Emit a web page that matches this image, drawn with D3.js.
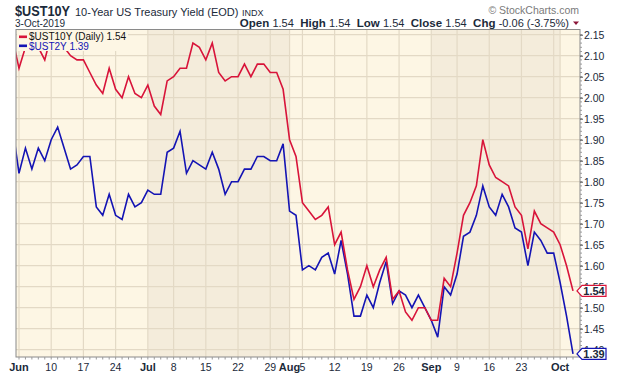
<!DOCTYPE html>
<html>
<head>
<meta charset="utf-8">
<script src="https://cdn.jsdelivr.net/npm/d3@7"></script>
<style>
  body { margin: 0; background: #fff; }
  svg { display: block; font-family: 'Liberation Sans', Arial, sans-serif; }
</style>
</head>
<body>
<div id="chart"></div>
<script>
// trading days, May 31 is just off the left edge (clipped)
const dates = [
  '2019-05-31',
  '2019-06-03','2019-06-04','2019-06-05','2019-06-06','2019-06-07',
  '2019-06-10','2019-06-11','2019-06-12','2019-06-13','2019-06-14',
  '2019-06-17','2019-06-18','2019-06-19','2019-06-20','2019-06-21',
  '2019-06-24','2019-06-25','2019-06-26','2019-06-27','2019-06-28',
  '2019-07-01','2019-07-02','2019-07-03','2019-07-05',
  '2019-07-08','2019-07-09','2019-07-10','2019-07-11','2019-07-12',
  '2019-07-15','2019-07-16','2019-07-17','2019-07-18','2019-07-19',
  '2019-07-22','2019-07-23','2019-07-24','2019-07-25','2019-07-26',
  '2019-07-29','2019-07-30','2019-07-31','2019-08-01','2019-08-02',
  '2019-08-05','2019-08-06','2019-08-07','2019-08-08','2019-08-09',
  '2019-08-12','2019-08-13','2019-08-14','2019-08-15','2019-08-16',
  '2019-08-19','2019-08-20','2019-08-21','2019-08-22','2019-08-23',
  '2019-08-26','2019-08-27','2019-08-28','2019-08-29','2019-08-30',
  '2019-09-03','2019-09-04','2019-09-05','2019-09-06',
  '2019-09-09','2019-09-10','2019-09-11','2019-09-12','2019-09-13',
  '2019-09-16','2019-09-17','2019-09-18','2019-09-19','2019-09-20',
  '2019-09-23','2019-09-24','2019-09-25','2019-09-26','2019-09-27',
  '2019-09-30','2019-10-01','2019-10-02','2019-10-03'
]

const ust10y = [
  2.14,
  2.07, 2.12, 2.12, 2.12, 2.09,
  2.15, 2.14, 2.12, 2.10, 2.09,
  2.09, 2.06, 2.03, 2.01, 2.07,
  2.02, 2.00, 2.05, 2.01, 2.00,
  2.03, 1.98, 1.96, 2.04,
  2.05, 2.07, 2.07, 2.13, 2.12,
  2.09, 2.13, 2.06, 2.04, 2.05,
  2.05, 2.08, 2.05, 2.08, 2.08,
  2.06, 2.06, 2.02, 1.90, 1.86,
  1.75, 1.73, 1.71, 1.72, 1.74,
  1.65, 1.68, 1.59, 1.52, 1.55,
  1.60, 1.55, 1.59, 1.62, 1.52,
  1.54, 1.49, 1.47, 1.50, 1.50,
  1.47, 1.47, 1.57, 1.55,
  1.63, 1.72, 1.75, 1.79, 1.90,
  1.84, 1.81, 1.80, 1.79, 1.74,
  1.72, 1.64, 1.73, 1.70, 1.69,
  1.68, 1.65, 1.60, 1.54
]

const ust2y = [
  1.93,
  1.82, 1.88, 1.83, 1.88, 1.85,
  1.90, 1.93, 1.88, 1.83, 1.84,
  1.86, 1.86, 1.74, 1.72, 1.77,
  1.72, 1.71, 1.77, 1.74, 1.75,
  1.78, 1.77, 1.77, 1.87,
  1.88, 1.92, 1.82, 1.85, 1.84,
  1.83, 1.87, 1.83, 1.77, 1.80,
  1.80, 1.83, 1.83, 1.86, 1.86,
  1.85, 1.85, 1.89, 1.73, 1.72,
  1.59, 1.60, 1.59, 1.62, 1.63,
  1.58, 1.66, 1.58, 1.48, 1.48,
  1.53, 1.50, 1.56, 1.61, 1.51,
  1.54, 1.53, 1.50, 1.53, 1.50,
  1.47, 1.43, 1.55, 1.53,
  1.58, 1.67, 1.68, 1.72, 1.79,
  1.74, 1.72, 1.77, 1.74, 1.69,
  1.68, 1.60, 1.68, 1.66, 1.63,
  1.63, 1.56, 1.48, 1.39
]

const yTicks = [1.40, 1.45, 1.50, 1.55, 1.60, 1.65, 1.70, 1.75, 1.80, 1.85, 1.90, 1.95, 2.00, 2.05, 2.10, 2.15]

const tickDates = ['2019-06-03','2019-06-10','2019-06-17','2019-06-24','2019-07-01','2019-07-08','2019-07-15','2019-07-22','2019-07-29',
  '2019-08-01','2019-08-05','2019-08-12','2019-08-19','2019-08-26','2019-09-03','2019-09-09','2019-09-16','2019-09-23','2019-10-01']
const tickLabels = ['Jun','10','17','24','Jul','8','15','22','29','Aug','5','12','19','26','Sep','9','16','23','Oct']

const red = '#d8143a'
const blue = '#1414b4'
const lightBg = '#fdf6e4'
const darkBg = '#f4ecdb'
const gridColor = '#e3d9c5'
const textColor = '#1b2a3a'

const width = 620
const height = 376
const plot = { left: 16, right: 580, top: 29.5, bottom: 357 }

const svg = d3.select('#chart').append('svg')
  .attr('width', width)
  .attr('height', height)

const x = d3.scaleLinear().domain([1, dates.length - 1]).range([19, 573])
const y = d3.scaleLinear().domain([1.40, 2.15]).range([349.7, 34.7])

const idx = d => dates.indexOf(d)

// month shading
const monthStarts = []
dates.forEach(function(d, i) {
  if (i > 1 && d.slice(5, 7) !== dates[i - 1].slice(5, 7)) monthStarts.push(i)
})
const bounds = [plot.left].concat(monthStarts.map(i => x(i))).concat([plot.right])
for (let k = 0; k < bounds.length - 1; k++) {
  svg.append('rect')
    .attr('x', bounds[k]).attr('y', plot.top)
    .attr('width', bounds[k + 1] - bounds[k]).attr('height', plot.bottom - plot.top)
    .attr('fill', k % 2 === 0 ? lightBg : darkBg)
}

// vertical grid: week starts and month starts
const gridIdx = []
dates.forEach(function(d, i) {
  if (i < 1) return
  const wd = new Date(d + 'T12:00:00').getDay()
  const pwd = new Date(dates[i - 1] + 'T12:00:00').getDay()
  if (wd <= pwd || monthStarts.indexOf(i) >= 0) gridIdx.push(i)
})
svg.selectAll('.vgrid').data(gridIdx).enter().append('line')
  .attr('class', 'vgrid')
  .attr('x1', d => x(d)).attr('x2', d => x(d))
  .attr('y1', plot.top).attr('y2', plot.bottom)
  .attr('stroke', gridColor).attr('stroke-width', 1.2)

svg.selectAll('.hgrid').data(yTicks).enter().append('line')
  .attr('class', 'hgrid')
  .attr('x1', plot.left).attr('x2', plot.right)
  .attr('y1', d => y(d)).attr('y2', d => y(d))
  .attr('stroke', gridColor).attr('stroke-width', 1.2)

svg.append('clipPath').attr('id', 'clip')
  .append('rect')
  .attr('x', plot.left).attr('y', plot.top)
  .attr('width', plot.right - plot.left).attr('height', plot.bottom - plot.top)

const line = d3.line()
  .x((d, i) => x(i))
  .y(d => y(d))

const lines = svg.append('g').attr('clip-path', 'url(#clip)')
lines.append('path').datum(ust2y)
  .attr('d', line).attr('fill', 'none')
  .attr('stroke', blue).attr('stroke-width', 1.6).attr('stroke-linejoin', 'miter')
lines.append('path').datum(ust10y)
  .attr('d', line).attr('fill', 'none')
  .attr('stroke', red).attr('stroke-width', 1.6).attr('stroke-linejoin', 'miter')

// legend
svg.append('rect').attr('x', plot.left + 1).attr('y', plot.top + 1)
  .attr('width', 111).attr('height', 20.5).attr('fill', lightBg)
svg.append('rect').attr('x', 19).attr('y', 35.5).attr('width', 8).attr('height', 2.6).attr('fill', red)
svg.append('text').attr('x', 29).attr('y', 40).attr('font-size', '10px').attr('fill', '#111')
  .text('$UST10Y (Daily) ' + ust10y[ust10y.length - 1].toFixed(2))
svg.append('rect').attr('x', 19).attr('y', 44.5).attr('width', 8).attr('height', 2.6).attr('fill', blue)
svg.append('text').attr('x', 29).attr('y', 49.5).attr('font-size', '10px').attr('fill', blue)
  .text('$UST2Y ' + ust2y[ust2y.length - 1].toFixed(2))

// frame
svg.append('rect')
  .attr('x', plot.left).attr('y', plot.top)
  .attr('width', plot.right - plot.left).attr('height', plot.bottom - plot.top)
  .attr('fill', 'none').attr('stroke', '#8a8a8a').attr('stroke-width', 1)

// right axis
const minorTicks = y.ticks(80).filter(v => v > 1.38 && v < 2.17)
svg.append('g').selectAll('line').data(minorTicks).enter().append('line')
  .attr('x1', plot.right).attr('x2', plot.right + 2)
  .attr('y1', d => y(d)).attr('y2', d => y(d))
  .attr('stroke', '#9a9a9a').attr('stroke-width', 1)

const yAxis = d3.axisRight(y).tickValues(yTicks).tickSize(3).tickFormat(d3.format('.2f'))
const yg = svg.append('g')
  .attr('transform', 'translate(' + plot.right + ',0)')
  .call(yAxis)
yg.select('.domain').remove()
yg.selectAll('line').attr('stroke', '#555')
yg.selectAll('text').attr('x', 4).attr('font-size', '10.5px').attr('fill', textColor)
  .attr('font-family', "'Liberation Sans', Arial, sans-serif")

// bottom axis
svg.append('g').selectAll('line').data(d3.range(1, dates.length)).enter().append('line')
  .attr('x1', d => x(d)).attr('x2', d => x(d))
  .attr('y1', plot.bottom).attr('y2', plot.bottom + 2.5)
  .attr('stroke', '#9a9a9a')

svg.append('g').selectAll('text').data(tickDates).enter().append('text')
  .attr('x', d => x(idx(d)))
  .attr('y', 371)
  .attr('text-anchor', 'middle')
  .attr('font-size', (d, i) => isNaN(+tickLabels[i]) ? '11px' : '10.5px')
  .attr('font-weight', (d, i) => isNaN(+tickLabels[i]) ? 'bold' : 'normal')
  .attr('fill', textColor)
  .text((d, i) => tickLabels[i])

// last value boxes
function valueBox(v, color) {
  const cy = y(v)
  const g = svg.append('g')
  g.append('path')
    .attr('d', 'M' + (plot.right - 3) + ',' + cy + 'L' + (plot.right + 2) + ',' + (cy - 5.5) +
      'H' + (plot.right + 26) + 'V' + (cy + 5.5) + 'H' + (plot.right + 2) + 'Z')
    .attr('fill', '#fff').attr('stroke', color).attr('stroke-width', 1.2)
  g.append('text')
    .attr('x', plot.right + 14).attr('y', cy + 4)
    .attr('text-anchor', 'middle')
    .attr('font-size', '11px').attr('font-weight', 'bold').attr('fill', textColor)
    .text(v.toFixed(2))
}
valueBox(ust10y[ust10y.length - 1], red)
valueBox(ust2y[ust2y.length - 1], blue)

// header
svg.append('text').attr('x', 15).attr('y', 15.5)
  .attr('font-size', '15px').attr('font-weight', 'bold').attr('fill', textColor)
  .attr('textLength', 55).attr('lengthAdjust', 'spacingAndGlyphs')
  .text('$UST10Y')
svg.append('text').attr('x', 75).attr('y', 15.5)
  .attr('font-size', '11px').attr('fill', textColor)
  .text('10-Year US Treasury Yield (EOD)')
svg.append('text').attr('x', 242).attr('y', 15.5)
  .attr('font-size', '9px').attr('fill', textColor)
  .text('INDX')
svg.append('text').attr('x', 15).attr('y', 26.5)
  .attr('font-size', '10px').attr('fill', textColor)
  .text('3-Oct-2019')

const last = ust10y[ust10y.length - 1]
const chg = last - ust10y[ust10y.length - 2]
const ohlc = svg.append('text').attr('x', 569).attr('y', 26.5)
  .attr('text-anchor', 'end').attr('font-size', '11px').attr('fill', textColor)
  .attr('xml:space', 'preserve')
const parts = [['Open', last.toFixed(2)], ['High', last.toFixed(2)], ['Low', last.toFixed(2)],
  ['Close', last.toFixed(2)], ['Chg', chg.toFixed(2) + ' (' + (chg / ust10y[ust10y.length - 2] * 100).toFixed(2) + '%)']]
parts.forEach(function(p, i) {
  ohlc.append('tspan').attr('font-weight', 'bold').attr('font-size', '11.5px').text((i ? '  ' : '') + p[0] + ' ')
  ohlc.append('tspan').text(p[1])
})
svg.append('path').attr('d', 'M573,21.5L579,21.5L576,25Z').attr('fill', '#8b1538')

svg.append('text').attr('x', 579).attr('y', 14)
  .attr('text-anchor', 'end').attr('font-size', '10.5px').attr('fill', '#7a7a7a')
  .text('\u00a9 StockCharts.com')
</script>
</body>
</html>
